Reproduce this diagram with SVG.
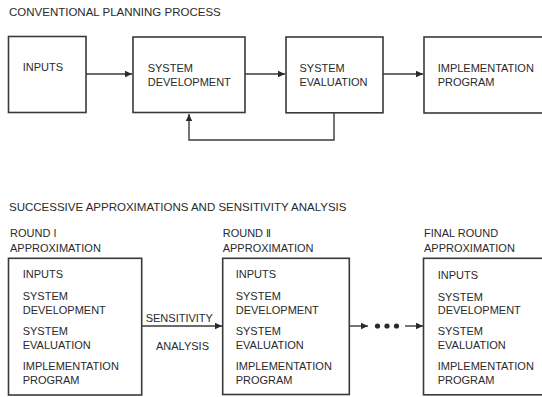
<svg xmlns="http://www.w3.org/2000/svg" width="542" height="397" viewBox="0 0 542 397">
<style>
text{font-family:"Liberation Sans",Arial,sans-serif;fill:#2a2a2a;font-size:11px}
.title{font-size:11.5px}
.box{fill:#fff;stroke:#3a3a3a;stroke-width:1.6}
.line{fill:none;stroke:#3a3a3a;stroke-width:1.4}
.num{font-family:"DejaVu Sans",sans-serif;font-size:10px}
</style>
<defs>
<marker id="ah" markerUnits="userSpaceOnUse" markerWidth="8" markerHeight="8" refX="7" refY="4" orient="auto">
<path d="M0,0.8 L7,4 L0,7.2 z" fill="#2a2a2a"/>
</marker>
</defs>
<rect width="542" height="397" fill="#fff"/>
<text class="title" x="9" y="15.5">CONVENTIONAL PLANNING PROCESS</text>
<text class="title" x="9" y="210.5">SUCCESSIVE APPROXIMATIONS AND SENSITIVITY ANALYSIS</text>

<g id="connectors">
<line class="line" x1="86" y1="74" x2="132" y2="74" marker-end="url(#ah)"/>
<line class="line" x1="245" y1="74" x2="285" y2="74" marker-end="url(#ah)"/>
<line class="line" x1="383" y1="74" x2="423" y2="74" marker-end="url(#ah)"/>
<polyline class="line" points="334,113 334,140 189,140 189,114" marker-end="url(#ah)"/>
<line class="line" x1="141.7" y1="326" x2="222" y2="326" marker-end="url(#ah)"/>
<line class="line" x1="349.3" y1="326" x2="368" y2="326" marker-end="url(#ah)"/>
<circle cx="377.5" cy="326" r="2.6" fill="#2a2a2a"/>
<circle cx="387" cy="326" r="2.6" fill="#2a2a2a"/>
<circle cx="396.5" cy="326" r="2.6" fill="#2a2a2a"/>
<line class="line" x1="405" y1="326" x2="423" y2="326" marker-end="url(#ah)"/>
<text x="145.7" y="321.7">SENSITIVITY</text>
<text x="156" y="350">ANALYSIS</text>
</g>

<g id="inputs">
<rect class="box" x="8.5" y="36.5" width="77.5" height="76"/>
<text x="22.7" y="71.3">INPUTS</text>
</g>
<g id="system-development">
<rect class="box" x="133" y="37" width="112" height="75.5"/>
<text x="147.7" y="71.5">SYSTEM</text>
<text x="147.7" y="85.7">DEVELOPMENT</text>
</g>
<g id="system-evaluation">
<rect class="box" x="286" y="37" width="97" height="75.8"/>
<text x="299.5" y="71.5">SYSTEM</text>
<text x="299.5" y="85.7">EVALUATION</text>
</g>
<g id="implementation-program">
<rect class="box" x="424" y="37" width="130" height="76"/>
<text x="437.7" y="71.5">IMPLEMENTATION</text>
<text x="437.7" y="85.7">PROGRAM</text>
</g>

<g id="round-1">
<text x="10" y="237.3">ROUND <tspan class="num">Ⅰ</tspan></text>
<text x="10" y="251.7">APPROXIMATION</text>
<rect class="box" x="8.5" y="258.3" width="133.2" height="136.7"/>
<text x="22.7" y="278.3">INPUTS</text>
<text x="22.7" y="300">SYSTEM</text>
<text x="22.7" y="313.5">DEVELOPMENT</text>
<text x="22.7" y="335">SYSTEM</text>
<text x="22.7" y="349">EVALUATION</text>
<text x="22.7" y="370">IMPLEMENTATION</text>
<text x="22.7" y="383.5">PROGRAM</text>
</g>
<g id="round-2">
<text x="222.7" y="237.3">ROUND <tspan class="num">Ⅱ</tspan></text>
<text x="222.7" y="251.7">APPROXIMATION</text>
<rect class="box" x="222.7" y="258.3" width="126.6" height="136.2"/>
<text x="235.7" y="278.3">INPUTS</text>
<text x="235.7" y="300">SYSTEM</text>
<text x="235.7" y="313.5">DEVELOPMENT</text>
<text x="235.7" y="335">SYSTEM</text>
<text x="235.7" y="349">EVALUATION</text>
<text x="235.7" y="370">IMPLEMENTATION</text>
<text x="235.7" y="383.5">PROGRAM</text>
</g>
<g id="final-round">
<text x="424" y="237.3">FINAL ROUND</text>
<text x="424" y="251.7">APPROXIMATION</text>
<rect class="box" x="423.5" y="258.3" width="130" height="136.5"/>
<text x="437.7" y="279">INPUTS</text>
<text x="437.7" y="300.5">SYSTEM</text>
<text x="437.7" y="314">DEVELOPMENT</text>
<text x="437.7" y="335">SYSTEM</text>
<text x="437.7" y="349">EVALUATION</text>
<text x="437.7" y="370">IMPLEMENTATION</text>
<text x="437.7" y="383.5">PROGRAM</text>
</g>
</svg>
